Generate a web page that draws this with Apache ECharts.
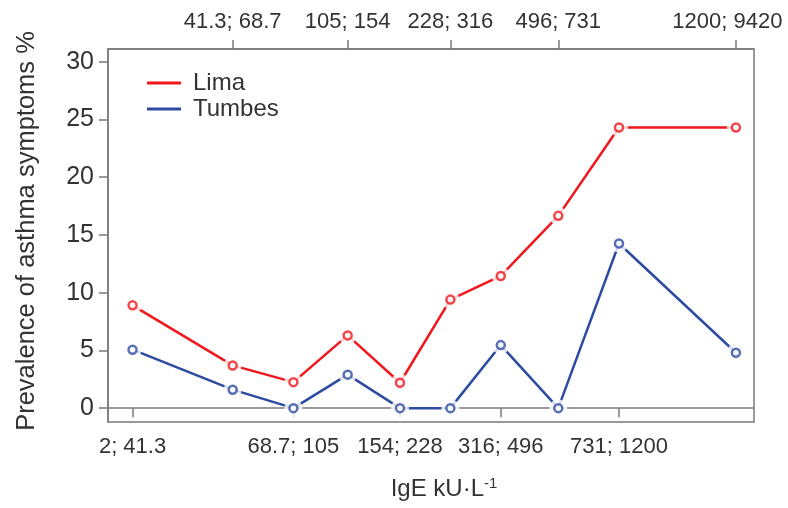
<!DOCTYPE html>
<html><head><meta charset="utf-8">
<script src="https://cdn.jsdelivr.net/npm/echarts@6/dist/echarts.min.js"></script>
<style>html,body{margin:0;padding:0;background:#fff}#c{width:788px;height:508px}</style>
</head><body><div id="c"></div>
<script>
// x position of each IgE interval along the axis (arbitrary units 0-100)
const xPos = [3.8, 19.3, 28.7, 37.1, 45.2, 53.0, 60.8, 69.7, 79.1, 97.2];
const intervals = ['2; 41.3','41.3; 68.7','68.7; 105','105; 154','154; 228','228; 316','316; 496','496; 731','731; 1200','1200; 9420'];
const lima = [8.9, 3.7, 2.25, 6.3, 2.2, 9.4, 11.45, 16.65, 24.3, 24.3];
const tumbes = [5.06, 1.6, 0, 2.9, 0, 0, 5.46, 0, 14.26, 4.8];
const yTicks = [0, 5, 10, 15, 20, 25, 30];

const RED = '#f0161c', BLUE = '#2d4ba0', AX = '#7a7a7a', TXT = '#333333';
const FONT = 'Liberation Sans, Arial, sans-serif';
const pts = arr => arr.map((v, i) => [xPos[i], v]);
const bottomVals = xPos.filter((_, i) => i % 2 === 0);
const topVals = xPos.filter((_, i) => i % 2 === 1);
const labelOf = v => {
  const i = xPos.indexOf(v);
  if (i < 0) return '';
  return i === xPos.length - 1 ? '{e|' + intervals[i] + '}' : intervals[i];
};

const xCommon = {
  type: 'value', min: 0, max: 100,
  axisLine: {show: true, lineStyle: {color: AX, width: 1.5}},
  axisTick: {show: true, length: 9, lineStyle: {color: AX, width: 1.5}},
  splitLine: {show: false},
  axisLabel: {color: TXT, fontSize: 22, fontFamily: FONT, margin: 14, formatter: labelOf,
    rich: {e: {fontSize: 22, fontFamily: FONT, color: TXT, padding: [0, 17, 0, 0]}}}
};

const chart = echarts.init(document.getElementById('c'), null, {renderer: 'canvas'});
chart.setOption({
  animation: false,
  backgroundColor: '#fff',
  grid: {left: 108, right: 34, top: 49, bottom: 86, show: true, borderColor: AX, borderWidth: 1.5},
  legend: {
    data: ['Lima', 'Tumbes'], orient: 'vertical', left: 142, top: 66, itemGap: 2,
    icon: 'rect', itemWidth: 34, itemHeight: 3,
    textStyle: {color: TXT, fontSize: 24, lineHeight: 24, fontFamily: FONT, padding: [0, 0, 0, 7]}
  },
  xAxis: [
    Object.assign({}, xCommon, {
      position: 'bottom',
      axisTick: Object.assign({}, xCommon.axisTick, {customValues: bottomVals}),
      axisLabel: Object.assign({}, xCommon.axisLabel, {customValues: bottomVals}),
      name: 'IgE kU·L{sup|-1}', nameLocation: 'middle', nameGap: 54,
      nameTextStyle: {color: TXT, fontSize: 24, fontFamily: FONT, padding: [0, 0, 0, 26],
        rich: {sup: {fontSize: 15, verticalAlign: 'top', padding: [0, 0, 12, 0], color: TXT, fontFamily: FONT}}}
    }),
    Object.assign({}, xCommon, {
      position: 'top',
      axisTick: Object.assign({}, xCommon.axisTick, {customValues: topVals}),
      axisLabel: Object.assign({}, xCommon.axisLabel, {customValues: topVals, margin: 16})
    })
  ],
  yAxis: {
    type: 'value', min: -1.2, max: 31.1,
    axisLine: {show: true, lineStyle: {color: AX, width: 1.5}},
    axisTick: {show: true, length: 9, customValues: yTicks, lineStyle: {color: AX, width: 1.5}},
    splitLine: {show: false},
    axisLabel: {customValues: yTicks, color: TXT, fontSize: 25, fontFamily: FONT, margin: 14},
    name: 'Prevalence of asthma symptoms %', nameLocation: 'middle', nameGap: 68,
    nameTextStyle: {color: TXT, fontSize: 25.5, fontFamily: FONT, padding: [0, 0, 0, 9]}
  },
  series: [
    {name: 'Lima', type: 'line', data: pts(lima), showSymbol: false, lineStyle: {color: RED, width: 2.5}, itemStyle: {color: RED}, z: 2},
    {name: 'Tumbes', type: 'line', data: pts(tumbes), showSymbol: false, lineStyle: {color: BLUE, width: 2.5}, itemStyle: {color: BLUE}, z: 2},
    {name: 'haloL', type: 'scatter', data: pts(lima), symbolSize: 18, itemStyle: {color: '#fff'}, z: 3, silent: true},
    {name: 'haloT', type: 'scatter', data: pts(tumbes), symbolSize: 18, itemStyle: {color: '#fff'}, z: 3, silent: true},
    {name: 'ringL', type: 'scatter', data: pts(lima), symbolSize: 8, itemStyle: {color: '#fff', borderColor: RED, borderWidth: 2.5}, z: 4, silent: true},
    {name: 'ringT', type: 'scatter', data: pts(tumbes), symbolSize: 8, itemStyle: {color: '#fff', borderColor: BLUE, borderWidth: 2.5}, z: 4, silent: true}
  ]
});
</script>
</body></html>
